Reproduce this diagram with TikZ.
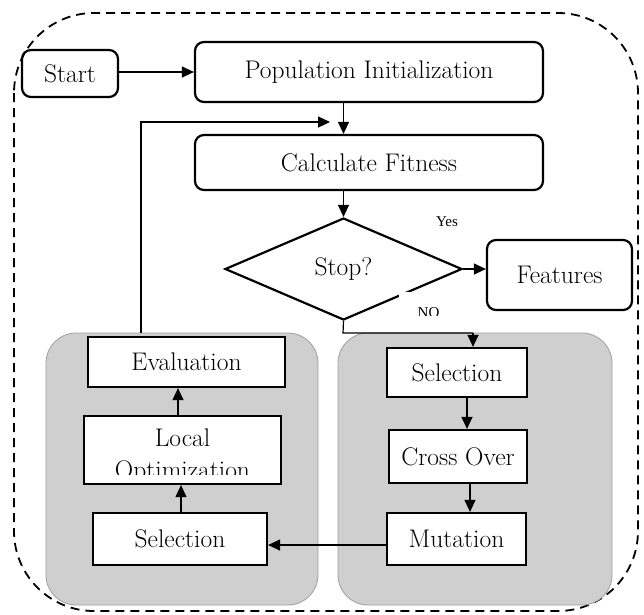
\documentclass[tikz,border=0pt]{standalone}
\usepackage{fontspec}
\newfontfamily\timesfont{Liberation Serif}
\usetikzlibrary{shapes.geometric,arrows.meta}
\begin{document}
\begin{tikzpicture}[x=1pt,y=-1pt,
  every node/.style={font=\fontsize{25.5}{32}\selectfont},
  rbox/.style={draw,line width=2.2pt,rounded corners=9pt,minimum width=#1,inner sep=0pt,align=center},
  sbox/.style={draw,line width=2.2pt,fill=white,minimum width=#1,inner sep=0pt,align=center},
  panel/.style={draw=gray!75,fill=gray!38,line width=0.8pt,rounded corners=30pt,inner sep=0pt},
  arr/.style={line width=1.2pt,-{Triangle[length=12pt,width=11pt]}},
  ln/.style={line width=1.2pt},
  small/.style={font=\timesfont\fontsize{15}{17}\selectfont}]
\useasboundingbox (0,0) rectangle (644,614);
% outer dashed frame
\draw[line width=1.8pt,dash pattern=on 9pt off 6pt,rounded corners=80pt] (14,13) rectangle (638,611);
% top flow
\node[rbox=96,minimum height=47] (start) at (70,73.5) {Start};
\node[rbox=348,minimum height=60] (pop) at (369,72) {Population Initialization};
\node[rbox=348,minimum height=55] (calc) at (369,162.5) {Calculate Fitness};
\node[draw,shape=diamond,line width=2.2pt,minimum width=237,minimum height=102,inner sep=0pt] (dia) at (343.5,269) {Stop?};
\node[rbox=145,minimum height=70] (feat) at (559.5,275) {Features};
\node[small] (yes) at (447,222) {Yes};
\begin{scope}
  \clip (395,292) rectangle (452,315);
  \node[fill=white,minimum width=60,minimum height=50,small,anchor=base] (no) at (428.5,317) {NO};
\end{scope}
% panels
\node[panel,minimum width=272,minimum height=272] (lp) at (182,469) {};
\node[panel,minimum width=274,minimum height=272] (rp) at (475,469) {};
% right boxes
\node[sbox=140,minimum height=49] (sel1) at (457,372.5) {Selection};
\node[sbox=138,minimum height=53] (cross) at (458,456.5) {Cross Over};
\node[sbox=139,minimum height=52] (mut) at (456.5,539) {Mutation};
% left boxes
\node[sbox=197,minimum height=50] (eval) at (186.5,362) {Evaluation};
\node[sbox=197,minimum height=68] (local) at (182.5,450) {};
\begin{scope}
  \clip (85,418) rectangle (280,474);
  \node[align=center] (localtxt) at (182.5,456) {Local\\Optimization};
\end{scope}
\node[sbox=174,minimum height=52] (sel2) at (180,539) {Selection};
% connectors
\draw[arr] (start.east |- 0,72) -- (pop.west |- 0,72);
\draw[arr] (pop.south -| dia.north) -- (calc.north -| dia.north);
\draw[arr] (calc.south -| dia.north) -- (dia.north);
\draw[arr] (dia.east) -- (feat.west |- dia.east);
\coordinate (fbend) at (330,122);
\draw[arr] (lp.north -| 141,0) -- ++(0,-3) |- (fbend);
\draw[ln] (dia.south) -- (343,333) -- (473,333);
\draw[arr] (473,333) -- (sel1.north -| 473,0);
\draw[arr] (sel1.south -| 467,0) -- (cross.north -| 467,0);
\draw[arr] (cross.south -| 470,0) -- (mut.north -| 470,0);
\draw[arr] (mut.west |- 0,545) -- (sel2.east |- 0,545);
\draw[arr] (sel2.north -| 181,0) -- (local.south -| 181,0);
\draw[arr] (local.north -| 178,0) -- (eval.south -| 178,0);
\end{tikzpicture}
\end{document}
